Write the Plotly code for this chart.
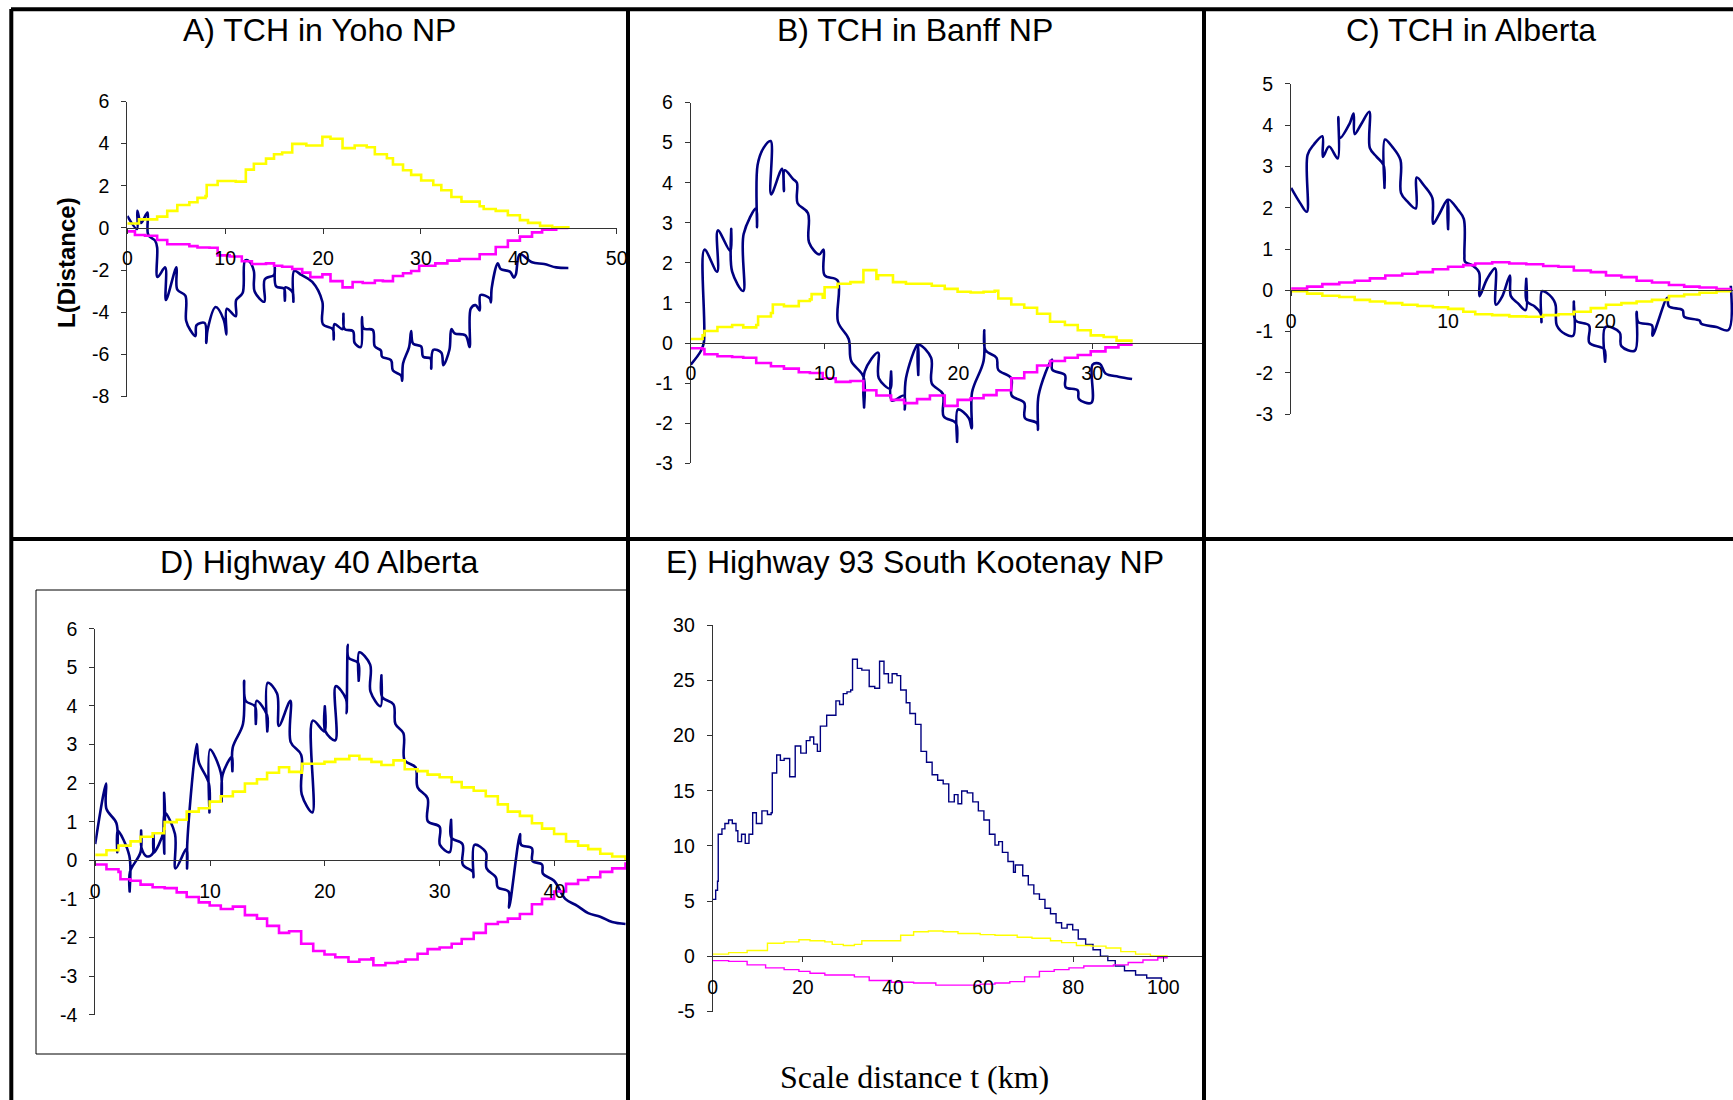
import plotly.graph_objects as go

W, H = 1733, 1100

# ---------------- data (x = scale distance t in km, y = L(Distance)) ----------------
# Panel A: TCH in Yoho NP
A_blue_x = [0, 0.99, 1.03, 1.4, 2.06, 2.14, 2.84, 3.05, 3.09, 3.87, 3.95, 5.02, 5.11, 5.93, 6.01, 6.43, 6.96, 7.08, 7.91, 8.07, 8.2, 9.02, 9.85, 10.13, 10.17, 11.08, 11.12, 11.78, 12.03, 12.44, 12.93, 13.01, 14.0, 14.04, 14.99, 15.07, 15.2, 16.02, 16.1, 16.14, 16.89, 16.97, 17.05, 17.79, 18.9, 19.93, 19.98, 21.0, 21.09, 21.17, 21.99, 22.08, 22.2, 23.06, 23.23, 23.85, 23.97, 24.14, 25.08, 25.29, 25.91, 26.03, 26.94, 27.14, 27.97, 28.09, 28.17, 28.79, 29.0, 29.2, 30.02, 30.23, 30.97, 31.05, 31.26, 32.08, 32.29, 32.91, 33.11, 33.44, 34.56, 34.97, 35.09, 35.58, 36.0, 36.08, 37.03, 37.15, 37.23, 37.85, 38.14, 39.09, 39.5, 39.7, 40.11, 41.35, 42.59, 43.82, 45.06]
A_blue_y = [0.57, -0.05, 0.81, 0.24, 0.73, -0.33, -0.6, -0.93, -2.33, -1.87, -3.42, -1.87, -2.93, -3.21, -4.4, -4.84, -5.13, -4.61, -4.51, -5.46, -4.84, -3.75, -4.35, -5.05, -3.83, -4.19, -3.42, -3.09, -1.55, -1.58, -2.04, -3.01, -3.5, -2.44, -2.23, -1.87, -2.77, -2.88, -3.45, -2.82, -3.05, -3.5, -2.04, -2.23, -2.56, -3.5, -4.56, -4.8, -5.29, -4.56, -4.8, -4.07, -4.8, -4.89, -5.46, -5.65, -4.23, -4.77, -4.84, -5.62, -5.81, -6.11, -6.27, -6.76, -7.0, -7.25, -6.43, -5.65, -4.89, -5.49, -5.62, -6.11, -6.19, -6.68, -5.78, -5.91, -6.51, -5.78, -4.8, -5.0, -5.1, -5.65, -3.83, -3.66, -3.91, -3.18, -3.34, -3.53, -2.85, -1.68, -1.95, -2.07, -2.36, -2.2, -1.25, -1.63, -1.71, -1.87, -1.9]
A_yel_x = [0, 1.19, 3.05, 4.08, 5.11, 6.34, 7.17, 7.99, 8.11, 9.23, 11.08, 12.11, 12.93, 14.17, 14.99, 15.82, 16.85, 18.29, 19.93, 20.76, 21.99, 23.23, 24.46, 25.29, 26.52, 27.14, 28.17, 29.0, 30.02, 31.26, 32.08, 33.11, 34.14, 36.0, 36.41, 37.64, 38.88, 40.11, 40.94, 42.17, 43.41, 45.06]
A_yel_y = [0.21, 0.41, 0.54, 0.81, 1.09, 1.22, 1.43, 1.51, 2.04, 2.23, 2.2, 2.77, 3.05, 3.29, 3.5, 3.58, 3.99, 3.91, 4.32, 4.23, 3.79, 3.91, 3.83, 3.5, 3.31, 3.01, 2.74, 2.52, 2.25, 2.04, 1.79, 1.47, 1.25, 1.03, 0.9, 0.81, 0.6, 0.37, 0.24, 0.1, 0.03, 0.0]
A_mag_x = [0, 0.78, 1.81, 3.05, 4.08, 5.11, 6.34, 7.17, 8.4, 9.23, 10.46, 11.7, 12.73, 14.17, 14.99, 15.82, 16.85, 17.87, 18.7, 19.93, 20.76, 21.99, 23.02, 24.05, 25.29, 26.11, 27.14, 28.17, 29.0, 29.82, 31.47, 32.7, 33.94, 36.0, 37.64, 38.88, 40.11, 41.35, 42.38, 43.82, 45.06]
A_mag_y = [-0.16, -0.33, -0.37, -0.57, -0.77, -0.77, -0.86, -0.93, -0.94, -1.3, -1.35, -1.58, -1.71, -1.68, -1.79, -1.84, -1.95, -2.12, -2.33, -2.2, -2.52, -2.82, -2.56, -2.61, -2.49, -2.52, -2.28, -2.15, -2.04, -1.79, -1.68, -1.55, -1.47, -1.25, -0.9, -0.6, -0.41, -0.21, -0.08, 0.0, 0.0]

# Panel B: TCH in Banff NP
B_blue_x = [0, 0.75, 0.98, 1.02, 1.97, 2.02, 2.96, 3.02, 3.09, 3.92, 3.95, 4.89, 4.95, 4.99, 5.44, 5.97, 6.0, 6.82, 6.96, 7.02, 7.65, 7.93, 7.98, 8.76, 8.84, 9.59, 9.92, 10.0, 10.97, 11.0, 11.8, 11.99, 12.9, 12.95, 13.0, 14.0, 14.05, 14.92, 14.97, 15.03, 15.94, 15.99, 16.08, 16.96, 17.0, 17.05, 17.96, 18.01, 18.84, 18.9, 19.81, 19.9, 19.96, 20.77, 20.99, 21.02, 21.88, 21.93, 22.02, 22.85, 22.98, 23.95, 23.98, 24.92, 24.97, 25.88, 25.95, 25.99, 26.99, 27.02, 27.96, 28.01, 28.92, 29.01, 29.94, 30.03, 30.58, 30.99, 31.96, 32.98]
B_blue_y = [-0.54, -0.2, 0.02, 2.33, 1.78, 2.81, 2.29, 2.85, 1.78, 1.3, 2.72, 3.36, 2.89, 4.44, 4.87, 5.04, 3.71, 4.35, 3.79, 4.31, 4.09, 4.0, 3.49, 3.24, 2.51, 2.21, 2.33, 1.69, 1.56, 0.53, 0.1, -0.45, -0.84, -1.61, -0.71, -0.24, -0.88, -1.14, -0.71, -1.44, -1.31, -1.66, -0.88, -0.03, -0.8, -0.05, -0.37, -1.01, -1.27, -1.83, -2.0, -2.47, -1.66, -1.87, -2.13, -1.23, -0.45, 0.32, -0.18, -0.37, -0.67, -0.88, -1.31, -1.49, -1.87, -2.0, -2.17, -1.31, -0.41, -0.67, -0.8, -1.1, -1.18, -1.4, -1.49, -0.54, -0.52, -0.76, -0.84, -0.9]
B_yel_x = [0, 0.88, 1.02, 1.99, 3.09, 3.92, 4.89, 5.03, 5.99, 6.13, 6.96, 8.07, 8.9, 9.03, 9.86, 10.0, 10.97, 11.93, 12.9, 13.87, 14.0, 14.97, 15.11, 16.08, 18.01, 18.98, 19.94, 20.91, 21.88, 22.71, 22.98, 23.95, 24.92, 25.88, 26.85, 27.96, 28.92, 29.89, 30.86, 31.82, 32.93]
B_yel_y = [0.10, 0.19, 0.30, 0.40, 0.45, 0.39, 0.45, 0.66, 0.75, 0.96, 0.92, 1.05, 1.09, 1.22, 1.13, 1.39, 1.48, 1.52, 1.82, 1.6, 1.69, 1.69, 1.52, 1.48, 1.43, 1.35, 1.28, 1.26, 1.28, 1.30, 1.11, 0.96, 0.88, 0.73, 0.53, 0.45, 0.32, 0.19, 0.15, 0.06, 0.01]
B_mag_x = [0, 0.88, 1.02, 1.99, 3.09, 3.92, 4.89, 5.99, 6.96, 8.07, 8.9, 9.86, 10.83, 11.93, 12.9, 13.87, 14.97, 15.94, 16.91, 17.87, 18.98, 19.94, 20.91, 21.88, 22.85, 23.95, 24.92, 25.88, 26.85, 27.96, 28.92, 29.89, 30.99, 31.96, 32.93]
B_mag_y = [-0.13, -0.15, -0.28, -0.33, -0.35, -0.37, -0.5, -0.58, -0.64, -0.73, -0.75, -0.88, -0.97, -0.95, -1.18, -1.31, -1.42, -1.5, -1.4, -1.31, -1.57, -1.42, -1.38, -1.3, -1.18, -0.88, -0.73, -0.56, -0.45, -0.37, -0.3, -0.21, -0.11, -0.04, 0.0]

# Panel C: TCH in Alberta
C_blue_x = [0, 0.58, 1.0, 1.05, 1.45, 1.99, 2.03, 2.42, 2.97, 3.01, 3.12, 3.72, 3.98, 4.05, 4.48, 4.98, 5.02, 5.45, 5.89, 5.95, 5.98, 6.43, 6.97, 7.0, 7.4, 7.94, 8.01, 8.48, 9.0, 9.05, 9.46, 9.96, 10.0, 10.04, 10.65, 11.0, 11.04, 11.08, 11.52, 11.97, 12.0, 12.49, 13.0, 13.05, 13.46, 13.94, 14.0, 14.44, 14.94, 14.98, 15.02, 15.52, 15.9, 15.95, 15.98, 16.28, 16.82, 16.93, 17.47, 17.97, 18.01, 18.12, 18.98, 19.0, 19.96, 20.0, 20.02, 20.93, 21.04, 21.9, 22.01, 22.12, 22.99, 23.02, 23.96, 24.07, 24.94, 25.04, 26.02, 26.13, 27.1, 27.86, 28.01]
C_blue_y = [2.48, 2.11, 1.9, 3.28, 3.53, 3.73, 3.23, 3.48, 3.19, 4.19, 3.69, 4.03, 4.28, 3.78, 4.03, 4.32, 3.44, 3.23, 3.03, 2.48, 3.65, 3.48, 3.15, 2.36, 2.15, 1.98, 2.73, 2.53, 2.23, 1.61, 1.86, 2.19, 1.48, 2.19, 1.94, 1.73, 0.86, 0.69, 0.61, 0.44, -0.14, 0.28, 0.53, -0.35, -0.14, 0.36, -0.14, -0.31, -0.48, 0.28, -0.27, -0.39, -0.56, -0.77, -0.02, -0.06, -0.31, -0.85, -1.06, -1.1, -0.27, -0.73, -0.85, -1.27, -1.43, -1.73, -0.89, -1.02, -1.35, -1.46, -0.52, -0.77, -0.85, -1.1, -0.18, -0.39, -0.48, -0.64, -0.73, -0.81, -0.89, -0.96, 0.11]
C_mag_x = [0, 1.02, 1.99, 3.07, 4.05, 5.02, 6.0, 7.08, 8.05, 9.03, 10.0, 10.97, 11.73, 12.81, 13.9, 14.98, 16.06, 17.03, 18.01, 19.09, 20.06, 21.04, 22.01, 22.99, 24.07, 25.04, 26.02, 27.1, 27.97]
C_mag_y = [0.04, 0.09, 0.15, 0.19, 0.23, 0.29, 0.36, 0.4, 0.44, 0.51, 0.57, 0.61, 0.65, 0.68, 0.65, 0.63, 0.59, 0.57, 0.48, 0.44, 0.36, 0.32, 0.23, 0.19, 0.13, 0.09, 0.07, 0.03, 0.0]
C_yel_x = C_mag_x
C_yel_y = [-0.02, -0.08, -0.13, -0.16, -0.23, -0.27, -0.31, -0.35, -0.38, -0.41, -0.45, -0.52, -0.58, -0.6, -0.63, -0.64, -0.6, -0.58, -0.52, -0.43, -0.35, -0.31, -0.27, -0.23, -0.14, -0.1, -0.06, -0.02, 0.0]

# Panel D: Highway 40 Alberta
D_blue_x = [0, 0.95, 0.98, 1.85, 1.92, 1.95, 2.97, 3.0, 3.03, 3.95, 4.0, 4.05, 4.5, 5.0, 5.07, 5.1, 5.98, 6.0, 6.02, 6.05, 6.95, 7.0, 7.97, 8.0, 8.03, 8.85, 9.02, 9.9, 9.95, 10.0, 10.94, 11.01, 11.1, 11.92, 11.95, 11.98, 12.87, 12.97, 13.11, 13.92, 13.99, 14.05, 14.97, 14.99, 15.03, 15.84, 16.0, 17.0, 17.03, 17.94, 17.99, 18.92, 18.95, 19.97, 20.0, 20.05, 20.91, 20.95, 21.85, 21.9, 21.99, 22.06, 22.9, 22.95, 23.0, 23.95, 23.98, 24.86, 24.93, 25.0, 25.98, 26.15, 26.85, 26.96, 27.9, 28.08, 28.95, 28.97, 30.0, 30.03, 30.87, 31.0, 31.02, 31.99, 32.02, 32.9, 32.95, 33.04, 34.02, 34.09, 34.9, 35.07, 36.0, 36.05, 37.0, 37.1, 38.04, 38.08, 38.92, 39.0, 39.97, 40.94, 41.99, 42.94, 43.99, 45.03, 46.19]
D_blue_y = [0.42, 1.99, 1.33, 0.96, 0.21, 0.77, 0.12, -0.81, -0.3, 0.21, 0.77, 0.3, 0.1, 0.17, 0.68, 0.2, 0.77, 1.75, 0.17, 1.24, 0.68, -0.21, 0.31, -0.21, 0.5, 3.01, 2.55, 1.99, 1.24, 2.87, 2.27, 1.52, 2.22, 2.69, 2.31, 2.92, 3.53, 4.65, 4.13, 3.99, 3.53, 4.13, 3.76, 3.34, 4.6, 4.32, 3.48, 4.13, 3.06, 2.73, 1.71, 1.24, 3.62, 3.34, 3.99, 3.34, 3.11, 4.51, 4.18, 3.81, 5.58, 5.25, 5.11, 4.65, 5.39, 5.07, 4.37, 3.99, 4.79, 4.23, 4.04, 3.53, 3.29, 2.59, 2.41, 1.89, 1.61, 1.01, 0.87, 0.4, 0.21, 1.05, 0.59, 0.42, -0.11, -0.3, -0.44, 0.4, 0.21, -0.21, -0.44, -0.7, -0.81, -1.23, 0.68, 0.4, 0.31, -0.02, -0.11, -0.35, -0.53, -1.0, -1.18, -1.37, -1.46, -1.6, -1.65]
D_yel_x = [0, 0.98, 2.03, 3.08, 3.95, 5.0, 6.0, 6.05, 7.1, 7.97, 9.02, 9.97, 10.94, 11.99, 13.04, 14.09, 14.97, 16.01, 16.89, 17.94, 18.01, 18.99, 19.97, 20.91, 22.13, 23.01, 24.06, 24.93, 25.98, 26.96, 28.08, 28.95, 30.0, 31.05, 31.92, 32.97, 34.02, 35.07, 35.94, 36.99, 38.04, 38.92, 39.97, 41.01, 42.06, 42.94, 43.99, 45.03, 46.19]
D_yel_y = [0.14, 0.26, 0.38, 0.49, 0.61, 0.7, 0.82, 0.99, 1.05, 1.26, 1.35, 1.52, 1.66, 1.78, 1.99, 2.1, 2.27, 2.41, 2.29, 2.27, 2.5, 2.5, 2.55, 2.62, 2.71, 2.62, 2.55, 2.47, 2.59, 2.36, 2.31, 2.22, 2.15, 2.03, 1.89, 1.8, 1.66, 1.45, 1.26, 1.15, 0.96, 0.82, 0.68, 0.49, 0.38, 0.29, 0.17, 0.1, 0.01]
D_mag_x = [0, 0.98, 2.03, 2.2, 3.08, 3.95, 5.0, 6.05, 7.1, 7.97, 9.02, 9.97, 10.94, 11.99, 13.04, 14.09, 14.97, 16.01, 16.89, 17.94, 18.99, 19.97, 20.91, 22.06, 23.01, 24.06, 24.23, 25.28, 26.33, 27.03, 28.08, 28.95, 30.0, 31.05, 31.92, 32.97, 34.02, 35.07, 35.94, 36.99, 38.04, 38.92, 39.97, 41.01, 42.06, 42.94, 43.99, 45.03, 46.19]
D_mag_y = [-0.11, -0.23, -0.3, -0.49, -0.53, -0.63, -0.7, -0.72, -0.83, -0.95, -1.09, -1.17, -1.26, -1.2, -1.42, -1.51, -1.7, -1.88, -1.84, -2.16, -2.35, -2.44, -2.51, -2.63, -2.57, -2.54, -2.72, -2.66, -2.63, -2.57, -2.42, -2.3, -2.26, -2.16, -2.04, -1.88, -1.65, -1.6, -1.51, -1.39, -1.14, -1.0, -0.81, -0.61, -0.51, -0.44, -0.3, -0.21, -0.05]

# Panel E: Highway 93 South Kootenay NP
E_blue_x = [0, 0.66, 1.07, 1.23, 2.05, 2.71, 3.53, 4.35, 5.17, 5.58, 6.4, 7.22, 8.05, 8.87, 9.69, 10.92, 12.15, 12.97, 13.22, 14.2, 15.02, 15.85, 17.08, 17.9, 18.31, 19.54, 20.77, 21.59, 22.41, 23.23, 23.89, 25.29, 26.52, 27.34, 28.16, 28.98, 29.8, 30.62, 31.03, 32.1, 33.09, 34.73, 35.96, 37.03, 38.01, 38.99, 39.82, 40.89, 41.71, 42.94, 43.76, 44.99, 46.22, 47.45, 48.69, 49.92, 51.15, 52.38, 53.61, 54.43, 55.25, 56.49, 57.72, 58.95, 60.18, 61.41, 62.64, 63.46, 64.29, 65.52, 66.75, 67.16, 68.8, 70.03, 71.26, 72.5, 73.73, 74.96, 76.19, 77.42, 78.65, 79.89, 81.12, 82.76, 84.4, 86.04, 87.68, 89.33, 91.38, 93.84, 96.31, 99.59]
E_blue_y = [5.16, 5.98, 6.8, 11.05, 11.54, 12.03, 12.35, 12.03, 11.37, 10.39, 11.05, 10.23, 11.05, 13.0, 12.03, 13.17, 12.84, 13.0, 16.6, 18.24, 17.75, 17.91, 16.27, 16.27, 19.05, 18.4, 19.54, 19.87, 19.22, 18.56, 20.85, 21.83, 21.83, 23.14, 22.81, 23.79, 23.95, 24.12, 26.9, 26.08, 25.92, 24.44, 24.28, 26.73, 25.59, 24.77, 25.59, 25.42, 24.12, 22.97, 21.99, 21.01, 18.56, 17.58, 16.44, 15.95, 15.62, 13.99, 14.64, 13.82, 14.97, 14.8, 13.99, 13.17, 12.35, 11.05, 10.07, 10.39, 9.41, 8.59, 7.61, 8.27, 7.29, 6.47, 5.65, 5.16, 4.35, 3.86, 3.04, 2.55, 2.88, 2.39, 1.57, 1.08, 0.59, 0.0, -0.39, -0.88, -1.31, -1.7, -1.96, -2.19]
E_yel_x = [0, 3.53, 7.64, 10.92, 12.15, 15.85, 19.13, 21.59, 24.88, 26.52, 28.98, 31.44, 33.09, 38.01, 41.71, 44.58, 47.87, 51.15, 54.43, 59.36, 62.64, 67.57, 70.85, 74.96, 77.42, 80.71, 83.99, 87.27, 90.56, 93.84, 97.13, 100.82]
E_yel_y = [0.2, 0.33, 0.52, 0.52, 1.18, 1.31, 1.5, 1.41, 1.31, 1.08, 0.98, 1.08, 1.41, 1.41, 1.9, 2.22, 2.29, 2.22, 2.06, 1.96, 1.9, 1.73, 1.63, 1.41, 1.24, 0.98, 0.92, 0.75, 0.42, 0.2, 0.03, 0.0]
E_mag_x = [0, 3.53, 7.64, 11.74, 15.85, 19.13, 21.59, 24.88, 28.16, 31.44, 34.73, 39.66, 44.58, 49.51, 54.43, 59.36, 62.64, 65.93, 69.21, 72.5, 75.78, 79.06, 82.35, 85.63, 88.92, 92.2, 95.48, 98.77, 100.82]
E_mag_y = [-0.39, -0.46, -0.78, -1.05, -1.21, -1.37, -1.54, -1.7, -1.7, -1.86, -2.19, -2.35, -2.42, -2.61, -2.61, -2.52, -2.42, -2.29, -1.86, -1.37, -1.21, -1.05, -0.88, -0.88, -0.78, -0.56, -0.33, -0.13, -0.07]

panel_titles = ["A) TCH in Yoho NP", "B) TCH in Banff NP", "C) TCH in Alberta",
                "D) Highway 40 Alberta", "E) Highway 93 South Kootenay NP"]
x_ticks = [[0, 10, 20, 30, 40, 50], [0, 10, 20, 30], [0, 10, 20], [0, 10, 20, 30, 40],
           [0, 20, 40, 60, 80, 100]]
y_ticks = [[-8, -6, -4, -2, 0, 2, 4, 6], [-3, -2, -1, 0, 1, 2, 3, 4, 5, 6],
           [-3, -2, -1, 0, 1, 2, 3, 4, 5], [-4, -3, -2, -1, 0, 1, 2, 3, 4, 5, 6],
           [-5, 0, 5, 10, 15, 20, 25, 30]]
y_title = "L(Distance)"
x_title = "Scale distance t (km)"

series = [
    [(A_blue_x, A_blue_y), (A_mag_x, A_mag_y), (A_yel_x, A_yel_y)],
    [(B_blue_x, B_blue_y), (B_mag_x, B_mag_y), (B_yel_x, B_yel_y)],
    [(C_blue_x, C_blue_y), (C_mag_x, C_mag_y), (C_yel_x, C_yel_y)],
    [(D_blue_x, D_blue_y), (D_mag_x, D_mag_y), (D_yel_x, D_yel_y)],
    [(E_blue_x, E_blue_y), (E_mag_x, E_mag_y), (E_yel_x, E_yel_y)],
]

# ---------------- layout geometry (pixels) ----------------
# (x pixel of left, x pixel of right, x range max, y pixel top, y pixel bottom, y min, y max)
geom = [
    (127.3, 616.7, 50.0, 101.5, 396.6, -8, 6),
    (690.8, 1203.0, 38.28, 102.6, 463.2, -3, 6),
    (1291.1, 1733.0, 28.15, 83.7, 414.3, -3, 5),
    (95.2, 627.0, 46.32, 628.7, 1014.7, -4, 6),
    (712.7, 1203.0, 108.8, 625.1, 1011.5, -5, 30),
]
title_pos = [(319, 30.5), (915, 30.5), (1471, 30.5), (319, 562), (915, 562)]

BLUE, MAG, YEL = "#000080", "#FF00FF", "#FFFF00"
FONT = "Arial, Liberation Sans, sans-serif"
TICK_SIZE = 19.5


def fx(p):
    return p / W


def fy(p):
    return 1 - p / H


fig = go.Figure()
layout = dict(width=W, height=H, margin=dict(l=0, r=0, t=0, b=0, pad=0, autoexpand=False),
              autosize=False,
              paper_bgcolor="white", plot_bgcolor="rgba(0,0,0,0)", showlegend=False,
              font=dict(family=FONT, color="black"))

for i, (g, ser) in enumerate(zip(geom, series)):
    n = i + 1
    xl, xr, xmax, yt, yb, ymin, ymax = g
    zero_pix = yt + (ymax - 0) / (ymax - ymin) * (yb - yt)
    small = (i == 4)
    lw = 1.4 if small else 2.6
    xa, ya = f"x{n}", f"y{n}"
    for k, ((sx, sy), col) in enumerate(zip(ser, [BLUE, MAG, YEL])):
        if small:
            shape = "hv"
        elif k == 0:
            shape = "spline"
        else:
            shape = "hv"
        line = dict(color=col, width=lw, shape=shape)
        if shape == "spline":
            line["smoothing"] = 1.0
        fig.add_trace(go.Scatter(x=sx, y=sy, mode="lines", line=line, xaxis=xa, yaxis=ya,
                                 hoverinfo="skip"))
    xkey = "xaxis" if n == 1 else f"xaxis{n}"
    ykey = "yaxis" if n == 1 else f"yaxis{n}"
    layout[xkey] = dict(domain=[fx(xl), min(1.0, fx(xr))], range=[0, xmax], anchor="free",
                        position=fy(zero_pix), tickvals=x_ticks[i],
                        ticktext=[str(v) for v in x_ticks[i]], ticks="outside",
                        ticklen=5, tickcolor="#333", showline=True, linecolor="#333",
                        linewidth=1, showgrid=False, zeroline=False, automargin=False,
                        tickfont=dict(size=TICK_SIZE, family=FONT, color="black"),
                        ticklabelstandoff=8, fixedrange=True)
    layout[ykey] = dict(domain=[fy(yb), fy(yt)], range=[ymin, ymax], anchor=xa,
                        tickvals=y_ticks[i], ticktext=[str(v) for v in y_ticks[i]],
                        ticks="outside", ticklen=5, tickcolor="#333", automargin=False,
                        showline=True, linecolor="#333", linewidth=1, showgrid=False,
                        zeroline=False, tickfont=dict(size=TICK_SIZE, family=FONT, color="black"),
                        ticklabelstandoff=8, fixedrange=True)

fig.update_layout(**layout)

annotations = []
for t, (cx, cy) in zip(panel_titles, title_pos):
    annotations.append(dict(text=t, x=fx(cx), y=fy(cy), xref="paper", yref="paper",
                            showarrow=False, xanchor="center", yanchor="middle",
                            font=dict(size=32, family=FONT, color="black")))
annotations.append(dict(text="<b>" + y_title + "</b>", x=fx(66), y=fy(263), xref="paper",
                        yref="paper", showarrow=False, textangle=-90, xanchor="center",
                        yanchor="middle", font=dict(size=24, family=FONT, color="black")))
annotations.append(dict(text=x_title, x=fx(914), y=fy(1077), xref="paper", yref="paper",
                        showarrow=False, xanchor="center", yanchor="middle",
                        font=dict(size=32, family="Liberation Serif, Times New Roman, serif",
                                  color="black")))

shapes = []
bw = 4
for (x0, y0, x1, y1) in [(11, 9.3, 1733, 9.3), (11.3, 9, 11.3, 1100), (628, 9, 628, 1100),
                         (1204, 9, 1204, 1100), (11, 539, 1733, 539)]:
    shapes.append(dict(type="line", xref="paper", yref="paper", x0=fx(x0), y0=fy(y0),
                       x1=fx(x1), y1=fy(y1), line=dict(color="black", width=bw), layer="above"))
# plot-area frame of panel D
shapes.append(dict(type="rect", xref="paper", yref="paper", x0=fx(36), y0=fy(1054),
                   x1=fx(627), y1=fy(590), line=dict(color="black", width=1), layer="below"))

fig.update_layout(annotations=annotations, shapes=shapes)
fig.write_html("out.html", config={"displayModeBar": False},
               post_script="document.body.style.margin='0px';document.body.style.overflow='hidden';")
